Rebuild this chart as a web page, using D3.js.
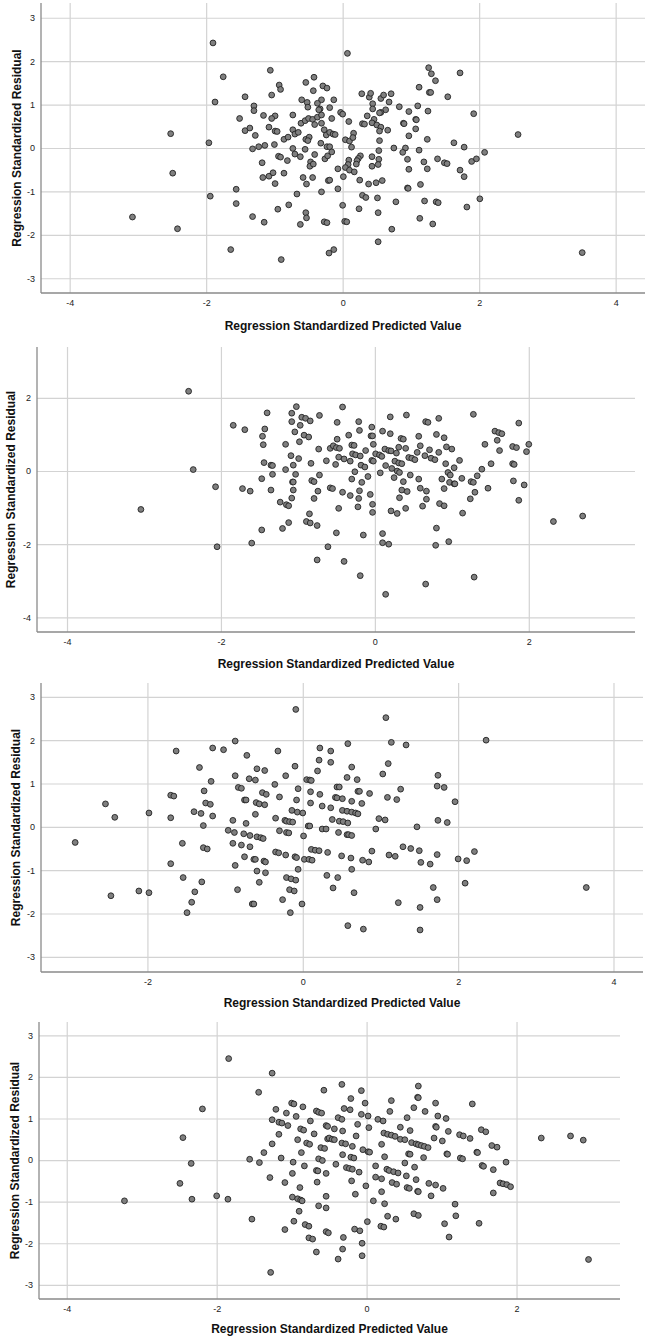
<!DOCTYPE html>
<html>
<head>
<meta charset="utf-8">
<script src="https://cdn.jsdelivr.net/npm/d3@7"></script>
<style>
  body { margin: 0; background: #fff; }
  svg { display: block; font-family: "Liberation Sans", Arial, sans-serif; }
</style>
</head>
<body>
<script>
const xTitle = "Regression Standardized Predicted Value";
const yTitle = "Regression Standardized Residual";

// [predicted, residual] pairs
const points1 = [
  [-1.90,2.42],[-1.75,1.64],[-1.87,1.06],[-2.52,0.33],[-1.96,0.12],[-2.49,-0.58],[-1.94,-1.11],[-3.08,-1.59],[-2.42,-1.86],[-1.64,-2.34],
  [-1.56,-0.95],[-1.56,-1.28],[-1.43,1.18],[-1.51,0.68],[-1.43,0.40],[-1.36,0.46],[-1.30,0.97],[-1.30,0.86],[-1.28,0.29],[-1.32,-0.02],
  [-1.23,0.03],[-1.14,0.06],[-1.16,0.75],[-1.06,1.79],[-1.04,1.22],[-0.99,0.74],[-1.04,0.68],[-1.08,0.48],[-0.99,0.39],[-0.96,0.38],
  [-0.93,1.45],[-0.91,1.35],[-1.00,0.08],[-1.18,-0.34],[-1.17,-0.68],[-1.08,-0.65],[-1.02,-0.57],[-0.99,-0.82],[-0.94,-0.19],[-0.91,-0.21],
  [-0.86,-0.58],[-0.81,-0.29],[-0.86,0.20],[-0.80,0.25],[-0.73,0.76],[-0.73,0.42],[-0.70,0.32],[-0.65,0.36],[-0.73,-0.01],[-0.70,-0.14],
  [-0.62,-0.20],[-0.58,-0.68],[-0.53,-0.83],[-0.67,-1.06],[-0.31,-1.01],[-0.44,-0.68],[-0.47,-0.32],[-0.48,-0.42],[-0.43,-0.37],[-0.41,-0.15],
  [-0.55,-0.03],[-0.54,0.20],[-0.49,0.25],[-0.51,0.17],[-0.61,0.57],[-0.55,0.63],[-0.50,0.68],[-0.44,0.66],[-0.41,0.54],[-0.37,0.71],
  [-0.31,0.76],[-0.31,0.57],[-0.27,0.42],[-0.24,0.30],[-0.32,0.11],[-0.26,-0.25],[-0.22,-0.18],[-0.60,1.11],[-0.52,1.05],[-0.51,0.94],
  [-0.54,1.51],[-0.42,1.63],[-0.43,1.32],[-0.31,1.11],[-0.37,1.03],[-0.33,0.90],[-0.29,1.43],[-0.23,1.38],[-0.35,0.88],[-0.79,-1.31],
  [-0.95,-1.41],[-1.15,-1.71],[-1.32,-1.58],[-0.62,-1.76],[-0.54,-1.49],[-0.53,-1.61],[-0.90,-2.57],[-0.27,-1.70],[-0.23,-1.72],[-0.20,-2.42],
  [-0.21,-0.75],[-0.23,0.03],
  [-0.13,1.11],[-0.19,0.93],[-0.16,0.68],[-0.03,0.82],[0.00,0.78],[0.09,0.61],[-0.19,0.36],[-0.14,0.32],[-0.11,0.31],[-0.19,0.03],
  [-0.16,-0.09],[0.04,0.19],[0.10,0.16],[0.16,0.34],[0.15,0.24],[0.13,0.02],[0.09,-0.28],[0.08,-0.38],[0.04,-0.45],[0.10,-0.51],
  [0.17,-0.55],[0.01,-0.66],[-0.07,-0.48],[-0.19,-0.74],[-0.07,-0.94],[0.00,-1.32],[0.03,-1.69],[0.06,-1.70],[-0.13,-2.34],[0.07,2.18],
  [0.28,1.25],[0.39,1.17],[0.41,1.26],[0.44,1.02],[0.44,0.90],[0.56,1.14],[0.60,1.22],[0.71,1.25],[0.68,1.06],[0.63,0.88],
  [0.56,0.82],[0.54,0.81],[0.36,0.74],[0.29,0.56],[0.32,0.55],[0.46,0.66],[0.43,0.58],[0.50,0.53],[0.56,0.48],[0.54,0.39],
  [0.66,0.41],[0.26,-0.18],[0.23,-0.24],[0.21,-0.29],[0.20,-0.37],[0.25,-0.74],[0.38,-0.83],[0.49,-0.80],[0.58,-0.75],[0.43,-0.20],
  [0.53,-0.06],[0.53,-0.26],[0.52,-0.38],[0.43,-0.42],[0.54,0.17],[0.75,0.00],[0.29,-1.09],[0.34,-1.14],[0.24,-1.40],[0.51,-1.15],
  [0.52,-1.49],[0.78,-1.24],[0.52,-2.16],[0.72,-1.87],[0.83,0.95],[0.89,0.57],[0.90,0.56],[0.97,0.84],[0.97,0.28],[0.92,0.00],[0.88,-0.10],
  [0.95,-0.26],[0.97,-0.49],[0.95,-0.92],[0.96,-0.93],[1.07,0.66],[1.08,0.65],[1.07,0.44],[1.10,0.97],[1.12,1.40],[1.12,-0.05],[1.14,-0.84],
  [1.19,-0.32],[1.20,-1.22],[1.13,-1.62],[1.24,0.20],[1.24,-0.48],[1.25,0.85],[1.27,1.28],[1.29,1.28],[1.26,1.85],[1.30,1.71],
  [1.36,1.55],[1.39,-0.25],[1.37,-1.24],[1.40,-1.26],[1.32,-1.75],[1.54,1.18],[1.49,-0.34],[1.53,-0.36],[1.63,0.12],[1.72,1.73],
  [1.78,0.02],[1.72,-0.51],[1.78,-0.66],[1.82,-1.36],[1.92,0.79],[1.89,-0.31],[1.96,-0.25],[2.01,-1.17],[2.08,-0.10],[2.57,0.31],[3.51,-2.41]
];

const points2 = [
  [-2.42,2.18],[-2.36,0.04],[-3.04,-1.05],[-2.07,-0.43],[-2.05,-2.07],[-1.84,1.25],[-1.69,1.13],[-1.72,-0.48],[-1.62,-0.55],[-1.60,-1.97],
  [-1.47,-1.61],[-1.40,1.59],[-1.43,1.15],[-1.46,0.95],[-1.45,0.72],[-1.44,0.23],[-1.35,0.16],[-1.33,0.15],[-1.33,-0.09],[-1.47,-0.21],
  [-1.35,-0.52],[-1.23,-0.85],[-1.20,-1.57],[-1.12,-1.41],[-1.15,-0.92],[-1.12,-0.95],[-1.16,0.04],[-1.16,0.73],[-1.08,-0.74],[-1.06,-0.52],
  [-1.07,-0.30],[-1.06,-0.30],[-1.03,-0.09],[-1.06,0.16],[-1.09,0.42],[-0.99,0.34],[-1.08,1.58],[-1.02,1.76],[-1.08,1.35],[-1.04,1.07],
  [-0.97,1.25],[-0.95,1.47],[-0.90,1.44],[-0.84,1.37],[-0.72,1.52],[-0.92,0.98],[-0.86,0.93],[-0.98,0.80],[-0.73,0.60],[-0.83,0.21],
  [-0.63,0.28],[-0.72,-0.11],[-0.82,-0.26],[-0.79,-0.29],[-0.74,-0.55],[-0.79,-0.75],[-0.85,-1.17],[-0.89,-1.38],[-0.84,-1.42],[-0.75,-1.49],
  [-0.75,-2.43],[-0.61,-2.07],[-0.58,0.62],
  [-0.42,1.75],[-0.49,1.33],[-0.49,0.87],[-0.54,0.69],[-0.50,0.64],[-0.46,0.62],[-0.51,0.18],[-0.47,0.38],[-0.40,0.33],[-0.32,0.27],
  [-0.34,0.98],[-0.21,1.35],[-0.20,1.11],[-0.30,0.71],[-0.27,0.70],[-0.29,0.47],[-0.25,0.44],[-0.19,0.41],[-0.26,-0.02],[-0.18,0.16],
  [-0.13,0.11],[-0.30,-0.22],[-0.17,-0.31],[-0.09,-0.15],[-0.20,-0.54],[-0.21,-0.75],[-0.22,-0.98],[-0.32,-0.67],[-0.42,-0.58],[-0.58,-0.46],
  [-0.55,-0.48],[-0.47,-1.02],[-0.50,-1.69],[-0.40,-2.47],[-0.15,-1.75],[-0.19,-2.86],[-0.06,-0.64],[-0.03,-0.91],[-0.03,-1.13],[-0.12,0.56],
  [-0.05,0.96],[-0.03,0.96],[-0.04,1.20],[-0.02,0.73],[-0.04,0.29],[-0.02,0.27],[0.01,0.47],[0.06,0.44],[0.09,0.40],[0.07,-0.05],
  [0.10,1.09],[0.20,1.02],[0.20,1.48],[0.13,0.60],[0.18,0.56],[0.21,0.55],[0.14,0.15],[0.22,0.07],[0.25,-0.18],[0.28,0.49],
  [0.26,0.27],[0.31,0.22],[0.29,0.00],[0.32,-0.04],[0.31,0.65],[0.34,0.89],[0.37,0.87],[0.41,1.53],[0.40,0.62],[0.44,0.37],
  [0.35,0.20],[0.37,-0.29],[0.35,-0.52],[0.42,-0.56],[0.32,-0.73],[0.21,-1.09],[0.29,-1.16],[0.40,-1.02],[0.46,-0.11],[0.48,0.35],
  [0.52,0.31],[0.55,0.51],[0.57,0.95],[0.59,0.69],[0.57,-0.22],[0.59,-0.47],[0.67,-0.55],[0.67,-0.77],[0.62,-0.96],[0.66,1.35],
  [0.69,1.33],[0.65,0.42],[0.71,0.58],[0.73,0.35],[0.78,0.31],[0.83,1.44],[0.80,1.00],[0.83,0.51],[0.90,0.91],[0.93,0.66],
  [1.00,0.60],[0.92,0.20],[0.95,-0.04],[0.98,-0.11],[0.87,-0.22],[0.90,-0.48],[0.84,-0.89],[0.90,-0.95],[0.80,-1.56],[0.79,-2.03],
  [0.96,-1.93],[0.97,-0.31],[1.03,-0.35],[1.04,-0.35],[1.03,0.09],[1.10,0.29],[1.13,-0.20],[1.14,-1.15],[0.66,-3.09],[0.14,-3.37],
  [0.10,-1.96],[0.18,-2.00],[0.10,-1.71],[1.28,1.55],[1.25,-0.29],[1.28,-0.31],[1.24,-0.76],[1.30,-0.58],[1.33,-0.13],[1.39,0.05],
  [1.43,0.73],[1.47,-0.47],[1.51,0.20],[1.56,1.09],[1.61,1.05],[1.65,1.02],[1.59,0.84],[1.62,0.56],[1.79,0.67],[1.84,0.64],
  [1.79,0.20],[1.81,0.18],[1.80,-0.27],[1.87,1.31],[1.94,-0.38],[1.87,-0.80],[1.97,0.53],[2.00,0.73],[1.29,-2.90],[2.32,-1.38],[2.70,-1.23]
];

const points3 = [
  [-2.93,-0.36],[-2.54,0.53],[-2.42,0.22],[-2.47,-1.59],[-2.11,-1.48],[-1.98,-1.52],[-1.98,0.32],[-1.70,0.73],[-1.66,0.71],[-1.70,0.21],
  [-1.63,1.75],[-1.55,-0.38],[-1.70,-0.85],[-1.54,-1.17],[-1.49,-1.98],[-1.43,-1.74],[-1.39,-1.50],[-1.30,-1.27],[-1.40,0.35],[-1.31,0.31],
  [-1.33,1.37],[-1.27,0.83],[-1.25,0.55],[-1.19,0.52],[-1.28,0.03],[-1.28,-0.48],[-1.23,-0.51],[-1.18,1.05],[-1.16,1.82],[-1.16,0.25],
  [-1.02,1.78],[-0.87,1.98],[-0.87,1.18],[-0.83,0.91],[-0.79,0.89],[-0.72,1.65],[-0.69,1.11],[-0.61,1.08],[-0.75,0.62],[-0.73,0.62],
  [-0.60,0.56],[-0.56,0.53],[-0.49,0.51],[-0.59,1.34],[-0.49,1.30],[-0.52,0.79],[-0.47,0.75],[-0.61,0.29],[-0.73,0.08],[-0.90,0.15],
  [-0.96,-0.08],[-0.88,-0.13],[-0.76,-0.16],[-0.68,-0.20],[-0.59,-0.23],[-0.54,-0.25],[-0.51,-0.27],[-0.90,-0.38],[-0.79,-0.42],[-0.68,-0.46],
  [-0.75,-0.69],[-0.63,-0.75],[-0.61,-0.75],[-0.50,-0.79],[-0.48,-0.81],[-0.87,-0.89],[-0.59,-1.02],[-0.48,-1.06],[-0.56,-1.28],[-0.84,-1.45],
  [-0.65,-1.78],[-0.63,-1.78],[-0.32,1.75],[-0.36,0.98],[-0.30,0.69],[-0.22,1.18],[-0.10,1.40],[-0.09,2.71],[-0.06,0.88],[-0.08,0.62],
  [-0.14,0.38],[-0.07,0.34],[0.00,0.32],[-0.35,0.20],[-0.23,0.15],[-0.21,0.13],[-0.17,0.12],[-0.13,0.11],[-0.30,-0.09],[-0.21,-0.13],
  [-0.18,-0.14],[0.01,-0.21],[-0.35,-0.58],[-0.31,-0.60],[-0.22,-0.65],[-0.10,-0.69],[-0.08,-0.71],[-0.06,-0.98],[-0.21,-1.17],[-0.15,-1.20],
  [-0.09,-1.23],[-0.17,-1.45],[-0.11,-1.48],[-0.26,-1.68],[-0.16,-1.98],[-0.01,-1.78],[0.02,-0.75],[0.08,-0.75],[0.12,-0.77],[0.11,-0.52],
  [0.16,-0.54],[0.21,-0.55],[0.32,-0.59],[0.05,1.09],[0.09,1.08],[0.11,1.07],[0.10,0.81],[0.10,0.55],[0.19,1.29],[0.21,1.54],
  [0.22,1.82],[0.22,0.75],[0.25,0.48],[0.07,0.02],[0.09,0.02],[0.25,-0.05],[0.30,-0.05],[0.31,-1.12],
  [0.36,1.75],[0.36,1.49],[0.58,1.92],[0.63,1.38],[0.57,1.14],[0.70,1.09],[0.44,0.92],[0.47,0.92],[0.42,0.68],[0.44,0.67],
  [0.51,0.65],[0.63,0.59],[0.71,0.82],[0.73,0.82],[0.76,0.54],[0.86,0.77],[0.36,0.44],[0.51,0.38],[0.57,0.36],[0.63,0.34],
  [0.68,0.32],[0.71,0.30],[0.38,0.17],[0.47,0.13],[0.52,0.12],[0.58,0.09],[0.46,-0.13],[0.57,-0.18],[0.59,-0.18],[0.63,-0.20],
  [0.94,-0.05],[0.98,0.19],[1.06,0.16],[1.03,1.22],[1.10,1.46],[1.14,1.95],[1.07,2.52],[1.33,1.89],[1.26,0.87],[1.09,0.68],
  [1.21,0.63],[1.47,0.00],[1.29,-0.46],[1.39,-0.50],[1.50,-0.55],[1.11,-0.65],[1.19,-0.68],[0.89,-0.56],[0.77,-0.77],[0.85,-0.81],
  [0.62,-0.72],[0.50,-0.67],[0.63,-0.98],[0.45,-1.17],[0.39,-1.41],[0.66,-1.52],[1.23,-1.75],[0.58,-2.28],[0.78,-2.36],[1.51,-2.38],
  [1.51,-1.86],[1.52,-0.82],[1.64,-0.86],[1.73,-0.64],[1.68,-1.40],[1.73,-1.68],[1.74,1.19],[1.73,0.94],[1.82,0.91],[1.74,0.15],
  [1.86,0.10],[1.96,0.58],[2.00,-0.74],[2.11,-0.78],[2.09,-1.30],[2.21,-0.57],[2.36,2.00],[3.65,-1.40]
];

const points4 = [
  [-3.23,-0.98],[-2.49,-0.56],[-2.45,0.54],[-2.34,-0.08],[-2.33,-0.94],[-2.19,1.23],[-2.00,-0.86],[-1.85,-0.94],[-1.84,2.44],[-1.56,0.02],
  [-1.53,-1.42],[-1.44,1.63],[-1.43,-0.06],[-1.37,0.18],[-1.29,-0.42],[-1.28,-2.70],[-1.26,2.09],[-1.26,0.97],[-1.26,0.39],[-1.21,1.22],
  [-1.17,0.62],[-1.17,0.91],[-1.13,0.89],[-1.05,0.83],[-1.07,1.13],[-1.14,0.05],[-1.09,-0.54],[-1.09,-1.67],[-1.00,1.37],[-0.97,1.35],
  [-0.94,1.05],[-0.98,-0.05],[-0.99,-0.32],[-0.99,-0.89],[-0.92,-0.93],[-0.88,-0.96],[-0.86,-0.98],[-0.97,-1.47],[-0.89,-0.66],[-0.90,-1.23],
  [-0.92,0.49],[-0.85,1.28],[-0.88,0.75],[-0.84,0.72],[-0.87,0.18],[-0.83,-0.14],[-0.82,-1.55],[-0.77,-1.59],[-0.77,-1.87],[-0.72,-1.90],
  [-0.80,0.41],[-0.76,0.38],[-0.75,0.94],[-0.70,0.63],[-0.67,1.18],[-0.64,1.15],[-0.60,1.13],[-0.57,1.68],[-0.67,-2.21],[-0.61,0.30],
  [-0.56,0.28],[-0.64,0.03],[-0.59,-0.01],[-0.67,-0.25],[-0.65,-0.26],[-0.66,-0.53],[-0.64,-1.10],[-0.54,0.83],[-0.52,0.81],[-0.52,0.51],
  [-0.54,-0.32],[-0.54,-0.87],[-0.54,-1.15],[-0.54,-1.72],[-0.51,-1.75],
  [-0.33,1.82],[-0.07,1.67],[-0.21,1.48],[-0.02,1.37],[-0.30,1.24],[-0.22,1.21],[-0.07,1.10],[0.02,1.06],[-0.38,1.02],[-0.33,0.98],
  [-0.12,0.86],[-0.43,0.75],[-0.32,0.70],[0.03,0.78],[-0.14,0.58],[-0.50,0.53],[-0.46,0.50],[-0.43,0.49],[-0.33,0.41],[-0.28,0.39],
  [-0.19,0.33],[-0.05,0.25],[0.02,0.20],[0.04,0.19],[-0.32,0.13],[-0.21,0.07],[-0.17,0.05],[-0.41,-0.10],[-0.27,-0.18],[-0.23,-0.20],
  [-0.19,-0.22],[-0.10,-0.29],[-0.20,-0.50],[-0.01,-0.62],[-0.15,-0.82],[0.09,-0.98],[0.01,-1.48],[-0.16,-1.66],[-0.09,-1.70],[-0.31,-1.86],
  [-0.06,-2.00],[-0.32,-2.14],[-0.38,-2.38],[-0.06,-2.30],[0.12,-0.14],[0.12,-0.41],[0.20,-0.45],[0.20,-0.76],[0.24,-1.05],[0.28,-1.35],
  [0.19,-1.59],[0.23,-1.61],[0.39,-1.42],[0.24,0.08],[0.20,0.38],[0.23,0.65],[0.28,0.62],[0.33,0.60],[0.38,0.57],[0.15,0.98],
  [0.22,0.94],[0.31,1.17],[0.33,1.43],[0.27,-0.22],[0.30,-0.25],[0.36,-0.28],[0.42,-0.31],[0.34,-0.54],[0.40,-0.58],[0.45,0.79],
  [0.45,0.50],[0.51,0.49],[0.51,-0.07],[0.54,1.02],[0.58,0.71],[0.60,0.42],[0.66,0.39],[0.69,0.37],[0.73,0.35],[0.77,0.33],
  [0.82,0.30],[0.56,0.15],[0.58,0.14],[0.53,-0.38],[0.54,-0.66],[0.57,-0.68],[0.66,-0.47],[0.64,-0.17],[0.63,1.26],[0.68,1.51],
  [0.69,1.50],[0.69,1.78],[0.68,-0.75],[0.69,-0.76],[0.76,0.06],[0.78,1.17],[0.83,-0.56],[0.86,-0.86],[0.63,-1.29],[0.69,-1.33],
  [0.92,1.37],[0.92,0.81],[0.93,0.79],[0.90,0.53],[0.95,1.06],[0.92,-0.60],[1.02,-0.68],[1.01,0.46],[1.06,1.00],[1.09,0.69],
  [1.07,0.15],[1.08,0.14],[1.04,-1.53],[1.10,-1.85],[1.18,-1.06],[1.19,-1.34],[1.24,0.61],[1.29,0.58],[1.25,0.05],[1.28,0.03],
  [1.38,0.52],[1.41,1.35],[1.47,0.19],[1.48,0.18],[1.53,0.73],[1.59,0.68],[1.54,-0.13],[1.56,-0.15],[1.50,-1.52],[1.67,0.35],
  [1.74,0.31],[1.69,-0.23],[1.69,-0.79],[1.78,-0.55],[1.82,-0.57],[1.87,-0.59],[1.92,-0.64],[1.86,-0.05],[2.33,0.53],[2.72,0.58],
  [2.89,0.48],[2.96,-2.39]
];

const xTicks1 = [-4, -2, 0, 2, 4], yTicks1 = [-3, -2, -1, 0, 1, 2, 3];
const xTicks2 = [-4, -2, 0, 2],    yTicks2 = [-4, -2, 0, 2];
const xTicks3 = [-2, 0, 2, 4],     yTicks3 = [-3, -2, -1, 0, 1, 2, 3];
const xTicks4 = [-4, -2, 0, 2],    yTicks4 = [-3, -2, -1, 0, 1, 2, 3];

const w = 649;
const h = 1339;

const svg = d3.select("body").append("svg")
  .attr("width", w)
  .attr("height", h);

// layout of each panel, measured on the page
const panels = [
  { pts: points1, xt: xTicks1, yt: yTicks1, left: 41, right: 645, top: 3, bottom: 293,
    xDom: [-4.42, 4.43], yDom: [-3.34, 3.34], yTitleX: 21, xTitleY: 330 },
  { pts: points2, xt: xTicks2, yt: yTicks2, left: 37, right: 635, top: 347, bottom: 632,
    xDom: [-4.39, 3.38], yDom: [-4.4, 3.39], yTitleX: 15, xTitleY: 668 },
  { pts: points3, xt: xTicks3, yt: yTicks3, left: 41, right: 643, top: 683, bottom: 972,
    xDom: [-3.37, 4.38], yDom: [-3.35, 3.32], yTitleX: 20, xTitleY: 1007 },
  { pts: points4, xt: xTicks4, yt: yTicks4, left: 39, right: 620, top: 1022, bottom: 1299,
    xDom: [-4.37, 3.38], yDom: [-3.34, 3.32], yTitleX: 19, xTitleY: 1333 },
];

panels.forEach((p) => {
  const x = d3.scaleLinear().domain(p.xDom).range([p.left, p.right]);
  const y = d3.scaleLinear().domain(p.yDom).range([p.bottom, p.top]);
  const g = svg.append("g");

  // grid
  const xGrid = g.append("g")
    .attr("transform", "translate(0," + p.bottom + ")")
    .call(d3.axisBottom(x).tickValues(p.xt).tickSize(-(p.bottom - p.top)).tickFormat(""));
  const yGrid = g.append("g")
    .attr("transform", "translate(" + p.left + ",0)")
    .call(d3.axisLeft(y).tickValues(p.yt).tickSize(-(p.right - p.left)).tickFormat(""));
  [xGrid, yGrid].forEach((a) => {
    a.select(".domain").remove();
    a.selectAll("line").attr("stroke", "#d3d3d3").attr("stroke-width", 1.2);
  });

  // axis lines
  g.append("line")
    .attr("x1", p.left).attr("x2", p.right)
    .attr("y1", p.bottom).attr("y2", p.bottom)
    .attr("stroke", "#8a8a8a").attr("stroke-width", 1.3);
  g.append("line")
    .attr("x1", p.left).attr("x2", p.left)
    .attr("y1", p.top).attr("y2", p.bottom)
    .attr("stroke", "#8a8a8a").attr("stroke-width", 1.3);

  // tick labels
  const xLab = g.append("g")
    .attr("transform", "translate(0," + p.bottom + ")")
    .call(d3.axisBottom(x).tickValues(p.xt).tickSize(0).tickPadding(7).tickFormat((d) => String(d)));
  const yLab = g.append("g")
    .attr("transform", "translate(" + p.left + ",0)")
    .call(d3.axisLeft(y).tickValues(p.yt).tickSize(0).tickPadding(6).tickFormat((d) => String(d)));
  [xLab, yLab].forEach((a) => {
    a.select(".domain").remove();
    a.selectAll("text")
      .attr("fill", "#222")
      .style("font-size", "9px")
      .style("font-family", "'Liberation Sans', Arial, sans-serif");
  });

  // points
  g.append("g")
    .selectAll("circle")
    .data(p.pts)
    .join("circle")
    .attr("cx", (d) => x(d[0]))
    .attr("cy", (d) => y(d[1]))
    .attr("r", 2.9)
    .attr("fill", "#7f7f7f")
    .attr("stroke", "#222")
    .attr("stroke-width", 0.9);

  // axis titles
  g.append("text")
    .attr("x", (p.left + p.right) / 2)
    .attr("y", p.xTitleY)
    .attr("text-anchor", "middle")
    .attr("font-weight", "bold")
    .attr("font-size", 12)
    .attr("fill", "#111")
    .text(xTitle);

  g.append("text")
    .attr("transform", "translate(" + p.yTitleX + "," + (p.top + p.bottom) / 2 + ") rotate(-90)")
    .attr("text-anchor", "middle")
    .attr("font-weight", "bold")
    .attr("font-size", 12)
    .attr("fill", "#111")
    .text(yTitle);
});
</script>
</body>
</html>
